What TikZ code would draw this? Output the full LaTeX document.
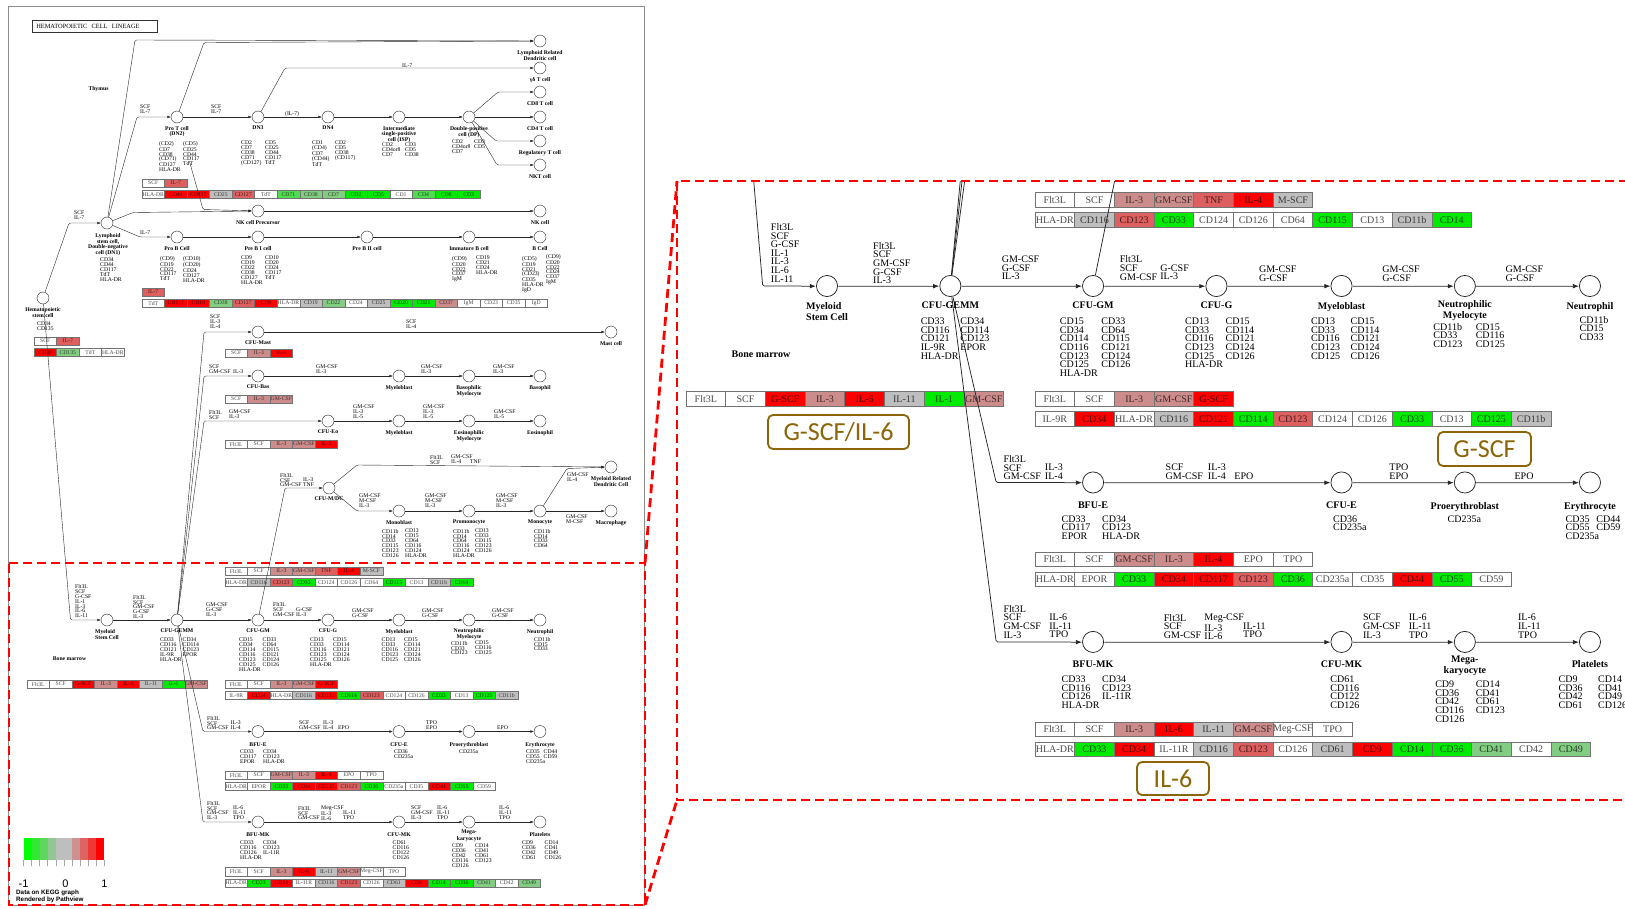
\documentclass[tikz,border=0pt]{standalone}
\usepackage{fontspec}
\setmainfont{Liberation Serif}
\newfontfamily\lsans{Liberation Sans}
\newfontfamily\calib{Carlito}
\usetikzlibrary{arrows.meta}
\definecolor{kred}{RGB}{255,0,0}
\definecolor{krm}{RGB}{222,95,95}
\definecolor{krl}{RGB}{205,140,140}
\definecolor{kgy}{RGB}{190,190,190}
\definecolor{kgr}{RGB}{0,235,0}
\definecolor{kgb}{RGB}{80,220,80}
\definecolor{kgm}{RGB}{130,205,130}
\definecolor{kann}{RGB}{139,101,8}
\definecolor{lg1}{RGB}{0,255,0}
\definecolor{lg2}{RGB}{50,232,50}
\definecolor{lg3}{RGB}{95,215,95}
\definecolor{lg4}{RGB}{145,200,145}
\definecolor{lg5}{RGB}{190,190,190}
\definecolor{lg6}{RGB}{190,190,190}
\definecolor{lg7}{RGB}{205,145,145}
\definecolor{lg8}{RGB}{222,100,100}
\definecolor{lg9}{RGB}{238,55,55}
\definecolor{lg10}{RGB}{255,0,0}
\newcommand\kfont{\fontsize{5.7}{4.9}\selectfont}
\newif\ifkupper
\tikzset{
 klw/.style={line width=0.4pt},
 ka/.style={-{Latex[length=3.4pt,width=2.6pt]}},
 kc/.style={circle, draw=black!85, fill=white, minimum size=12pt, inner sep=0pt, klw},
 kline/.style={draw=black!85, klw, rounded corners=1.5pt, ka},
 kbox/.style={draw=black!55, klw, minimum width=22.53pt, minimum height=8.2pt, inner sep=0pt, font=\kfont},
 ktx/.style={font=\kfont, align=left, anchor=north west, inner sep=0pt},
 kbold/.style={font=\kfont\bfseries, align=center, anchor=north, inner sep=0pt},
 rdash/.style={draw=red, line width=2.8pt, dash pattern=on 9pt off 5pt},
 ann/.style={draw=kann, text=kann, line width=1.8pt, rounded corners=5pt, fill=white, inner sep=0pt, font=\calib\fontsize{26}{26}\selectfont},
}
\newcommand\krow[4]{\foreach \bx/\bc [count=\bi from 0] in {#4}{\node[kbox,fill=\bc,text=\bc!30!black] (#1-\bi) at ({#2+\bi*22.53+11.265},{#3+4.1}) {\bx};}}
\newcommand\ktx[4]{\node[ktx] (#1) at (#2,#3) {#4};}
\newcommand\kti[4]{\node[kbold] (#1) at (#2,#3) {#4};}
\newcommand\keggmap{%
 \ifkupper
 \node[draw=black!80, line width=0.5pt, anchor=north west, inner xsep=4pt, inner ysep=0pt, minimum height=12pt, text width=117pt, align=left, font=\fontsize{6.4}{6}\selectfont] (maptitle) at (32,20) {HEMATOPOIETIC\ \ CELL\ \ LINEAGE};
 \node[font=\kfont\bfseries, inner sep=0pt] (thymus) at (98.5,89) {Thymus};
 \krow{bpt}{142}{179}{SCF/white,IL-7/krm}
 \krow{bt}{142}{190.4}{HLA-DR/white,CD44/kred,CD117/kred,CD25/kgy,CD127/krm,TdT/white,CD71/kgb,CD38/kgm,CD7/kgm,CD2/kgr,CD5/kgr,CD1/white,CD4/kgb,CD8/kgr,CD3/kgr}
 \krow{bpb}{142}{288}{IL-7/krm}
 \krow{bb}{142}{299}{TdT/white,CD117/kred,CD10/kred,CD38/kgm,CD127/krm,CD9/kred,HLA-DR/white,CD19/kgy,CD22/kgm,CD24/white,CD25/kgy,CD20/kgr,CD21/kgr,CD37/krl,IgM/white,CD23/white,CD35/white,IgD/white}
 \krow{bh1}{34}{337}{SCF/white,IL-7/krm}
 \krow{bh2}{34}{348.4}{CD34/kred,CD135/kgm,TdT/white,HLA-DR/white}
 \krow{bmast}{225}{349}{SCF/white,IL-3/krl,IL-4/kred}
 \krow{bbas}{225}{395}{SCF/white,IL-3/krl,GM-CSF/krl}
 \krow{beo}{225}{440}{Flt3L/white,SCF/white,IL-3/krl,GM-CSF/krl,IL-5/kred}
 \fi
 \node[font=\kfont\bfseries, inner sep=0pt] (bonemarrow) at (69.5,659) {Bone marrow};
 \krow{bgm1}{225}{567}{Flt3L/white,SCF/white,IL-3/krl,GM-CSF/krl,TNF/krm,IL-4/kred,M-SCF/kgy}
 \krow{bgm2}{225}{578.4}{HLA-DR/white,CD116/kgy,CD123/krm,CD33/kgr,CD124/white,CD126/white,CD64/white,CD115/kgr,CD13/white,CD11b/kgy,CD14/kgr}
 \krow{bgemm}{27}{680}{Flt3L/white,SCF/white,G-SCF/kred,IL-3/krl,IL-6/kred,IL-11/kgy,IL-1/kgr,GM-CSF/krl}
 \krow{bg1}{225}{680}{Flt3L/white,SCF/white,IL-3/krl,GM-CSF/krl,G-SCF/kred}
 \krow{bg2}{225}{691.4}{IL-9R/white,CD34/kred,HLA-DR/white,CD116/kgy,CD121/kred,CD114/kgr,CD123/krm,CD124/white,CD126/white,CD33/kgr,CD13/white,CD125/kgr,CD11b/kgy}
 \krow{be1}{225}{771}{Flt3L/white,SCF/white,GM-CSF/krl,IL-3/krl,IL-4/kred,EPO/white,TPO/white}
 \krow{be2}{225}{782.4}{HLA-DR/white,EPOR/white,CD33/kgr,CD34/kred,CD117/kred,CD123/krm,CD36/kgr,CD235a/white,CD35/white,CD44/kred,CD55/kgr,CD59/white}
 \krow{bmk1}{225}{867.6}{Flt3L/white,SCF/white,IL-3/krl,IL-6/kred,IL-11/kgy,GM-CSF/krl,Meg-CSF/white,TPO/white}
 \krow{bmk2}{225}{879}{HLA-DR/white,CD33/kgr,CD34/kred,IL-11R/white,CD116/kgy,CD123/krm,CD126/white,CD61/kgy,CD9/kred,CD14/kgr,CD36/kgr,CD41/kgm,CD42/white,CD49/kgm}
 % cells
 \foreach \cn/\cx/\cy in {hsc/43/298, dn1/107/223, prot/177/117, dn3/258/117, dn4/328/117, isp/399/117, dp/469/117, lrdc/540/41, gdt/540/68, cd8/540/92, cd4/540/117, treg/540/141, nkt/540/165, nkp/258/211, nk/540/211, preb/177/237, prebi/258/237, prebii/367/237, immb/469/237, bcell/540/237, cfumast/258/332, mast/611/332, cfubas/258/376, mbbas/399/376, basmy/469/376, baso/540/376, cfueo/328/421, mbeo/399/421, eomy/469/421, eos/540/421, cfumdc/329/488, mrdc/611/467, monob/399/511, promono/469/511, mono/540/511, macro/611/511, msc/107/620, gemm/177/620, cfugm/258/620, cfug/328/620, mbn/399/620, nmy/469/620, neut/540/620, bfue/258/731.5, cfue/399/731.5, proery/469/731.5, ery/540/731.5, bfumk/258/822, cfumk/399/822, mega/469/822, plt/540/822}
  {\node[kc] (\cn) at (\cx,\cy) {};}
 % connectors
 \draw[kline] (hsc) -- (69,223) -- (dn1);
 \draw[kline] (dn1) -- (137,117) -- (prot);
 \draw[kline] (dn1) -- (135,40) -- (lrdc);
 \draw[kline] (prot) -- (204,42.5) -- (lrdc);
 \draw[kline] (prot) -- (dn3);
 \draw[kline] (dn3) -- (285,68) -- (gdt);
 \draw[kline] (dn3) -- (dn4);
 \draw[kline] (dn4) -- (isp);
 \draw[kline] (isp) -- (dp);
 \draw[kline] (dp) -- (498,92) -- (cd8);
 \draw[kline] (dp) -- (cd4);
 \draw[kline] (dp) -- (496,141) -- (treg);
 \draw[kline] (dp) -- (497,165) -- (nkt);
 \draw[kline] (dn1) -- (133,212.5) -- (nkp);
 \draw[kline, shorten <=40pt] (prot) -- (203,209.5) -- (nkp);
 \draw[kline] (nkp) -- (nk);
 \draw[kline] (dn1) -- (140,237) -- (preb);
 \draw[kline] (preb) -- (prebi);
 \draw[kline] (prebi) -- (prebii);
 \draw[kline] (prebii) -- (immb);
 \draw[kline] (immb) -- (bcell);
 \draw[kline] (hsc) -- (70.5,620) -- (msc);
 \draw[kline] (msc) -- (gemm);
 \draw[kline] (gemm) -- (cfugm);
 \draw[kline] (cfugm) -- (cfug);
 \draw[kline] (cfug) -- (mbn);
 \draw[kline] (mbn) -- (nmy);
 \draw[kline] (nmy) -- (neut);
 \draw[kline] (gemm) -- (204,332) -- (cfumast);
 \draw[kline] (gemm) -- (204,376) -- (cfubas);
 \draw[kline] (gemm) -- (204,421) -- (cfueo);
 \draw[kline] (cfumast) -- (mast);
 \draw[kline] (cfubas) -- (mbbas);
 \draw[kline] (mbbas) -- (basmy);
 \draw[kline] (basmy) -- (baso);
 \draw[kline] (cfueo) -- (mbeo);
 \draw[kline] (mbeo) -- (eomy);
 \draw[kline] (eomy) -- (eos);
 \draw[kline] (cfugm) -- (285,488) -- (cfumdc);
 \draw[kline] (cfumdc) -- (357,465) -- (mrdc);
 \draw[kline] (cfumdc) -- (357,511) -- (monob);
 \draw[kline] (monob) -- (promono);
 \draw[kline] (promono) -- (mono);
 \draw[kline] (mono) -- (macro);
 \draw[kline] (mono) -- (567,468.5) -- (mrdc);
 \draw[kline] (gemm) -- (203,731.5) -- (bfue);
 \draw[kline] (gemm) -- (203,822) -- (bfumk);
 \draw[kline] (bfue) -- (cfue);
 \draw[kline] (cfue) -- (proery);
 \draw[kline] (proery) -- (ery);
 \draw[kline] (bfumk) -- (cfumk);
 \draw[kline] (cfumk) -- (mega);
 \draw[kline] (mega) -- (plt);
 \ifkupper
 % upper cell names
 \kti{hsc-t}{43}{307}{Hematopoietic\\stem cell}
 \kti{dn1-t}{108}{233}{Lymphoid\\stem cell,\\Double-negative\\cell (DN1)}
 \kti{prot-t}{177}{126}{Pro T cell\\(DN2)}
 \kti{dn3-t}{258}{126}{DN3}
 \kti{dn4-t}{328}{126}{DN4}
 \kti{isp-t}{399}{126}{Intermediate\\single-positive\\cell (ISP)}
 \kti{dp-t}{469}{126}{Double-positive\\cell (DP)}
 \kti{lrdc-t}{540}{50}{Lymphoid Related\\Dendritic cell}
 \kti{gdt-t}{540}{77}{γδ T cell}
 \kti{cd8-t}{540}{101}{CD8 T cell}
 \kti{cd4-t}{540}{126}{CD4 T cell}
 \kti{treg-t}{540}{150}{Regulatory T cell}
 \kti{nkt-t}{540}{174}{NKT cell}
 \kti{nkp-t}{258}{220}{NK cell Precursor}
 \kti{nk-t}{540}{220}{NK cell}
 \kti{preb-t}{177}{246}{Pro B Cell}
 \kti{prebi-t}{258}{246}{Pre B I cell}
 \kti{prebii-t}{367}{246}{Pre B II cell}
 \kti{immb-t}{469}{246}{Immature B cell}
 \kti{bcell-t}{540}{246}{B Cell}
 \kti{cfumast-t}{258}{341}{CFU-Mast}
 \kti{mast-t}{611}{341}{Mast cell}
 \kti{cfubas-t}{258}{385}{CFU-Bas}
 \kti{mbbas-t}{399}{385}{Myeloblast}
 \kti{basmy-t}{469}{385}{Basophilic\\Myelocyte}
 \kti{baso-t}{540}{385}{Basophil}
 \kti{cfueo-t}{328}{430}{CFU-Eo}
 \kti{mbeo-t}{399}{430}{Myeloblast}
 \kti{eomy-t}{469}{430}{Eosinophilic\\Myelocyte}
 \kti{eos-t}{540}{430}{Eosinophil}
 \kti{cfumdc-t}{329}{497}{CFU-M/DC}
 \kti{mrdc-t}{611}{476}{Myeloid Related\\Dendritic Cell}
 \kti{monob-t}{399}{520}{Monoblast}
 \kti{promono-t}{469}{520}{Promonocyte}
 \kti{mono-t}{540}{520}{Monocyte}
 \kti{macro-t}{611}{520}{Macrophage}
 % upper surface markers
 \ktx{hsc-c}{37}{322}{CD34\\CD135}
 \ktx{dn1-c}{100}{258}{CD34\\CD44\\CD117\\TdT\\HLA-DR}
 \ktx{prot-c1}{159}{141}{(CD2)\\CD7\\CD38\\(CD71)\\CD127\\HLA-DR}
 \ktx{prot-c2}{183}{141}{(CD5)\\CD25\\CD44\\CD117\\TdT}
 \ktx{dn3-c1}{241}{141}{CD2\\CD7\\CD38\\CD71\\(CD127)}
 \ktx{dn3-c2}{265}{141}{CD5\\CD25\\CD44\\CD117\\TdT}
 \ktx{dn4-c1}{312}{141}{CD1\\(CD4)\\CD7\\(CD44)\\TdT}
 \ktx{dn4-c2}{335}{141}{CD2\\CD5\\CD38\\(CD117)}
 \ktx{isp-c1}{382}{143}{CD2\\CD4or8\\CD7}
 \ktx{isp-c2}{405}{143}{CD3\\CD5\\CD38}
 \ktx{dp-c1}{452}{140}{CD2\\CD4or8\\CD7}
 \ktx{dp-c2}{474}{140}{CD3\\CD5}
 \ktx{preb-c1}{160}{256}{(CD9)\\CD19\\CD22\\CD117\\TdT}
 \ktx{preb-c2}{183}{256}{(CD10)\\(CD20)\\CD24\\CD127\\HLA-DR}
 \ktx{prebi-c1}{241}{256}{CD9\\CD19\\CD22\\CD38\\CD127\\HLA-DR}
 \ktx{prebi-c2}{265}{256}{CD10\\CD20\\CD24\\CD117\\TdT}
 \ktx{immb-c1}{452}{256}{(CD9)\\CD20\\CD22\\CD37\\IgM}
 \ktx{immb-c2}{476}{256}{CD19\\CD21\\CD24\\HLA-DR}
 \ktx{bcell-c1}{522}{256}{(CD5)\\CD19\\CD21\\(CD23)\\CD35\\HLA-DR\\IgD}
 \ktx{bcell-c2}{546}{254}{(CD9)\\CD20\\CD22\\CD24\\CD37\\IgM}
 \ktx{monob-c1}{382}{529}{CD11b\\CD14\\CD33\\CD115\\CD123\\CD126}
 \ktx{monob-c2}{405}{529}{CD13\\CD15\\CD64\\CD116\\CD124\\HLA-DR}
 \ktx{promono-c1}{453}{529}{CD11b\\CD14\\CD64\\CD116\\CD124\\HLA-DR}
 \ktx{promono-c2}{475}{529}{CD13\\CD33\\CD115\\CD123\\CD126}
 \ktx{mono-c}{534}{529}{CD11b\\CD14\\CD33\\CD64}
 % upper factor labels
 \ktx{l-hd}{74}{211}{SCF\\IL-7}
 \ktx{l-dp}{140}{105}{SCF\\IL-7}
 \ktx{l-p3}{211}{105}{SCF\\IL-7}
 \ktx{l-34}{285}{111}{(IL-7)}
 \ktx{l-gd}{402}{64}{IL-7}
 \ktx{l-db}{140}{231}{IL-7}
 \ktx{l-ma}{210}{315}{SCF\\IL-3\\IL-4}
 \ktx{l-mc}{406}{320}{SCF\\IL-4}
 \ktx{l-ba1}{209}{365}{SCF\\GM-CSF}
 \ktx{l-ba2}{233}{369.9}{IL-3}
 \ktx{l-bb1}{316}{365}{GM-CSF\\IL-3}
 \ktx{l-bb2}{421}{365}{GM-CSF\\IL-3}
 \ktx{l-bb3}{493}{365}{GM-CSF\\IL-3}
 \ktx{l-eo1}{209}{410}{Flt3L\\SCF}
 \ktx{l-eo2}{229}{410}{GM-CSF\\IL-3}
 \ktx{l-ee1}{353}{405}{GM-CSF\\IL-3\\IL-5}
 \ktx{l-ee2}{423}{405}{GM-CSF\\IL-3\\IL-5}
 \ktx{l-ee3}{494}{410}{GM-CSF\\IL-5}
 \ktx{l-md1}{280}{473}{Flt3L\\CSF\\GM-CSF}
 \ktx{l-md2}{303}{478}{IL-3\\TNF}
 \ktx{l-dc1}{430}{455}{Flt3L\\SCF}
 \ktx{l-dc2}{451}{455}{GM-CSF\\IL-4}
 \ktx{l-dc3}{470}{460}{TNF}
 \ktx{l-mo1}{359}{494}{GM-CSF\\M-CSF\\IL-3}
 \ktx{l-mo2}{425}{494}{GM-CSF\\M-CSF\\IL-3}
 \ktx{l-mo3}{496}{494}{GM-CSF\\M-CSF\\IL-3}
 \ktx{l-mr}{567}{473}{GM-CSF\\IL-4}
 \ktx{l-mac}{566}{515}{GM-CSF\\M-CSF}
 \fi
 % bone marrow cell names
 \node[kbold, align=left] (msc-t) at (107,629) {Myeloid\\Stem Cell};
 \kti{gemm-t}{177}{629}{CFU-GEMM}
 \kti{cfugm-t}{258}{629}{CFU-GM}
 \kti{cfug-t}{328}{629}{CFU-G}
 \kti{mbn-t}{399}{629}{Myeloblast}
 \kti{nmy-t}{469}{628}{Neutrophilic\\Myelocyte}
 \kti{neut-t}{540}{629}{Neutrophil}
 \kti{bfue-t}{258}{742.5}{BFU-E}
 \kti{cfue-t}{399}{742.5}{CFU-E}
 \kti{proery-t}{469}{742.5}{Proerythroblast}
 \kti{ery-t}{540}{742.5}{Erythrocyte}
 \kti{bfumk-t}{258}{832.5}{BFU-MK}
 \kti{cfumk-t}{399}{832.5}{CFU-MK}
 \kti{mega-t}{469}{830}{Mega-\\karyocyte}
 \kti{plt-t}{540}{832.5}{Platelets}
 % bone marrow surface markers
 \ktx{gemm-c1}{160}{638}{CD33\\CD116\\CD121\\IL-9R\\HLA-DR}
 \ktx{gemm-c2}{182.5}{638}{CD34\\CD114\\CD123\\EPOR}
 \ktx{cfugm-c1}{239}{638}{CD15\\CD34\\CD114\\CD116\\CD123\\CD125\\HLA-DR}
 \ktx{cfugm-c2}{262.5}{638}{CD33\\CD64\\CD115\\CD121\\CD124\\CD126}
 \ktx{cfug-c1}{310}{638}{CD13\\CD33\\CD116\\CD123\\CD125\\HLA-DR}
 \ktx{cfug-c2}{333}{638}{CD15\\CD114\\CD121\\CD124\\CD126}
 \ktx{mbn-c1}{381.5}{638}{CD13\\CD33\\CD116\\CD123\\CD125}
 \ktx{mbn-c2}{404}{638}{CD15\\CD114\\CD121\\CD124\\CD126}
 \ktx{nmy-c1}{451}{641}{CD11b\\CD33\\CD123}
 \ktx{nmy-c2}{475}{641}{CD15\\CD116\\CD125}
 \ktx{neut-c}{534}{637}{CD11b\\CD15\\CD33}
 \ktx{bfue-c1}{240}{750}{CD33\\CD117\\EPOR}
 \ktx{bfue-c2}{263}{750}{CD34\\CD123\\HLA-DR}
 \ktx{cfue-c}{394}{750}{CD36\\CD235a}
 \ktx{proery-c}{459}{750}{CD235a}
 \ktx{ery-c1}{526}{750}{CD35\\CD55\\CD235a}
 \ktx{ery-c2}{543.5}{750}{CD44\\CD59}
 \ktx{bfumk-c1}{240}{841}{CD33\\CD116\\CD126\\HLA-DR}
 \ktx{bfumk-c2}{263}{841}{CD34\\CD123\\IL-11R}
 \ktx{cfumk-c}{392.5}{841}{CD61\\CD116\\CD122\\CD126}
 \ktx{mega-c1}{452}{844}{CD9\\CD36\\CD42\\CD116\\CD126}
 \ktx{mega-c2}{475}{844}{CD14\\CD41\\CD61\\CD123}
 \ktx{plt-c1}{522}{841}{CD9\\CD36\\CD42\\CD61}
 \ktx{plt-c2}{544.5}{841}{CD14\\CD41\\CD49\\CD126}
 % bone marrow factor labels
 \ktx{l-hm}{75}{584.3}{Flt3L\\SCF\\G-CSF\\IL-1\\IL-3\\IL-6\\IL-11}
 \ktx{l-mg}{133}{595}{Flt3L\\SCF\\GM-CSF\\G-CSF\\IL-3}
 \ktx{l-gg}{206}{602.7}{GM-CSF\\G-CSF\\IL-3}
 \ktx{l-gga}{273}{602.7}{Flt3L\\SCF\\GM-CSF}
 \ktx{l-ggb}{296}{607.6}{G-CSF\\IL-3}
 \ktx{l-gb}{352}{608.3}{GM-CSF\\G-CSF}
 \ktx{l-bn}{422}{608.3}{GM-CSF\\G-CSF}
 \ktx{l-nn}{492}{608.3}{GM-CSF\\G-CSF}
 \ktx{l-be1}{207}{716}{Flt3L\\SCF\\GM-CSF}
 \ktx{l-be2}{230.5}{720.9}{IL-3\\IL-4}
 \ktx{l-ce1}{299}{721}{SCF\\GM-CSF}
 \ktx{l-ce2}{323}{721}{IL-3\\IL-4}
 \ktx{l-ce3}{338}{725.9}{EPO}
 \ktx{l-pe}{426}{721}{TPO\\EPO}
 \ktx{l-ee}{497}{725.9}{EPO}
 \ktx{l-bm1}{207}{801}{Flt3L\\SCF\\GM-CSF\\IL-3}
 \ktx{l-bm2}{233}{805.9}{IL-6\\IL-11\\TPO}
 \ktx{l-cm1}{298}{806}{Flt3L\\SCF\\GM-CSF}
 \ktx{l-cm2}{321}{806}{Meg-CSF\\IL-3\\IL-6}
 \ktx{l-cm3}{343}{810.9}{IL-11\\TPO}
 \ktx{l-mk1}{411}{806}{SCF\\GM-CSF\\IL-3}
 \ktx{l-mk2}{437}{806}{IL-6\\IL-11\\TPO}
 \ktx{l-pl}{499}{806}{IL-6\\IL-11\\TPO}
}
\begin{document}
\begin{tikzpicture}[x=1pt,y=-1pt]
\useasboundingbox (0,0) rectangle (1625,908);
% left panel frame
\draw[black!45, line width=0.8pt] (8,6) rectangle (644,905);
% left: complete map
\begin{scope}[name prefix=L-]
 \kuppertrue
 \keggmap
\end{scope}
% right: enlarged bone marrow part
\begin{scope}
 \clip (677,181) rectangle (1625,800);
 \begin{scope}[shift={(638.47,-806.44)}, scale=1.762, transform shape, name prefix=R-,
   klw/.style={line width=0.75pt}, ka/.style={-{Latex[length=6pt,width=4.6pt]}}]
  \kupperfalse
  \keggmap
 \end{scope}
\end{scope}
% legend
\foreach \lc [count=\li from 0] in {lg1,lg2,lg3,lg4,lg5,lg6,lg7,lg8,lg9,lg10}
 {\fill[\lc] ({23.5+\li*8.05},838) rectangle ++(8.05,22);}
\foreach \li in {0,...,10}
 {\draw[black!35, line width=0.4pt] ({23.5+\li*8.05},860) -- ++(0,6);}
\node[font=\lsans\fontsize{11}{11}\selectfont, inner sep=0pt] (lg-m1) at (23.5,884) {-1};
\node[font=\lsans\fontsize{11}{11}\selectfont, inner sep=0pt] (lg-0) at (65.5,884) {0};
\node[font=\lsans\fontsize{11}{11}\selectfont, inner sep=0pt] (lg-p1) at (104.5,884) {1};
\node[font=\lsans\bfseries\fontsize{6.3}{7}\selectfont, anchor=west, inner sep=0pt] (lg-d) at (16,893) {Data on KEGG graph};
\node[font=\lsans\bfseries\fontsize{6.3}{7}\selectfont, anchor=west, inner sep=0pt] (lg-r) at (16,900) {Rendered by Pathview};
% red dashed zoom frames
\coordinate (zTL) at (9,563);
\coordinate (zTR) at (645,563);
\coordinate (zBR) at (645,905);
\coordinate (zBL) at (9,905);
\coordinate (RTL) at (677,181);
\coordinate (RBL) at (677,800);
\coordinate (RTR) at (1628,181);
\coordinate (RBR) at (1628,800);
\draw[rdash] (zTL) -- (zTR) -- (zBR) -- (zBL) -- cycle;
\draw[rdash] (zTR) -- (RTL);
\draw[rdash] (zBR) -- (RBL);
\draw[rdash] (RTR) -- (RTL) -- (RBL) -- (RBR);
% annotations
\node[ann, minimum width=141pt, minimum height=34pt] (a-gscfil6) at (838.5,432) {G-SCF/IL-6};
\node[ann, minimum width=93pt, minimum height=34pt] (a-gscf) at (1484.5,449) {G-SCF};
\node[ann, minimum width=72pt, minimum height=33pt] (a-il6) at (1173,778.5) {IL-6};
\end{tikzpicture}
\end{document}
